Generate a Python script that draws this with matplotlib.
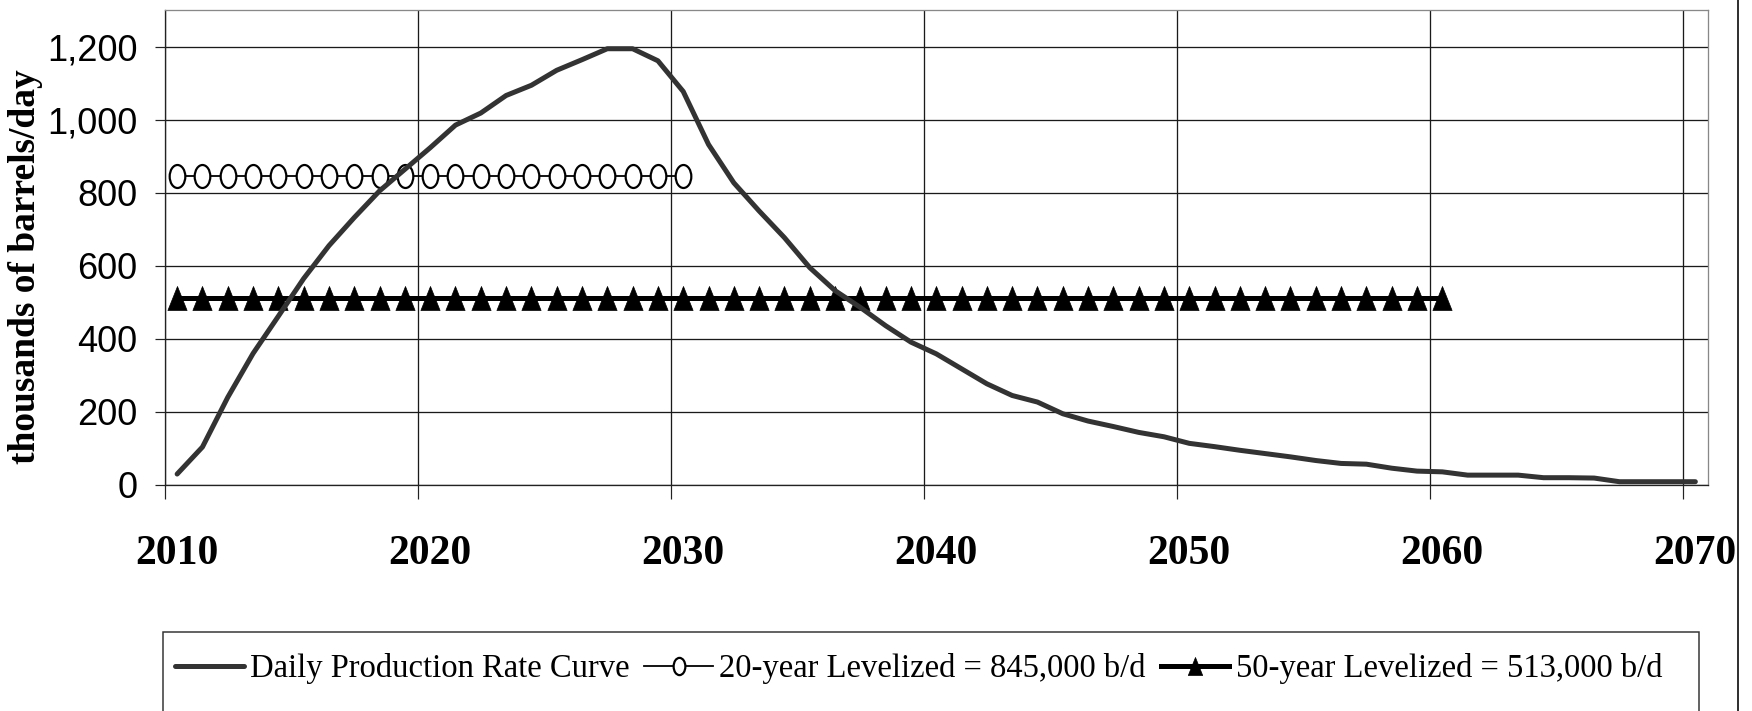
import numpy as np
import matplotlib
matplotlib.use("Agg")
import matplotlib.pyplot as plt
from matplotlib.path import Path
from matplotlib.lines import Line2D
from matplotlib.patches import Rectangle
from matplotlib.ticker import FixedLocator, NullFormatter, FixedFormatter

# ---------------- data ----------------
years = list(range(2010, 2071))
production = [30, 104, 240, 360, 462, 565, 655, 732, 805, 864,
              923, 985, 1018, 1066, 1094, 1135, 1164, 1194, 1194, 1161,
              1077, 932, 827, 750, 677, 595, 532, 486, 436, 391,
              359, 318, 277, 245, 227, 195, 175, 160, 144, 132,
              114, 105, 95, 86, 77, 67, 59, 57, 46, 38,
              36, 27, 27, 27, 20, 20, 19, 9, 9, 9, 9]
years_20 = list(range(2010, 2031))
level_20 = 845
years_50 = list(range(2010, 2061))
level_50 = 513

label_prod = "Daily Production Rate Curve"
label_20 = "20-year Levelized = 845,000 b/d"
label_50 = "50-year Levelized = 513,000 b/d"
ylabel = "thousands of barrels/day"
y_ticks = [0, 200, 400, 600, 800, 1000, 1200]
x_label_years = [2010, 2020, 2030, 2040, 2050, 2060, 2070]

# ---------------- figure ----------------
W, H = 1752, 711
fig = plt.figure(figsize=(W / 100, H / 100), dpi=100)
ax = fig.add_axes([164.5 / W, 1 - 485 / H, (1708 - 164.5) / W, (485 - 10) / H])

px = 72 / 100  # points per pixel

ellipse = Path(Path.unit_circle().vertices * np.array([0.68, 1.0]), Path.unit_circle().codes)
tri = Path([(0, 1), (-0.8, -1), (0.8, -1), (0, 1)],
           [Path.MOVETO, Path.LINETO, Path.LINETO, Path.CLOSEPOLY])

ax.plot(years, production, color="#333333", lw=5 * px, solid_capstyle="round",
        solid_joinstyle="round", label=label_prod, zorder=4)
ax.plot(years_20, [level_20] * len(years_20), color="black", lw=1.8 * px,
        marker=ellipse, ms=23 * px, mfc="white", mec="black", mew=2.2 * px,
        label=label_20, zorder=3)
ax.plot(years_50, [level_50] * len(years_50), color="black", lw=5 * px,
        marker=tri, ms=24 * px, mfc="black", mec="black", mew=0.5,
        label=label_50, zorder=3)

ax.set_xlim(years[0] - 0.5, years[-1] + 0.5)
ax.set_ylim(0, 1300)

# x axis: gridlines/ticks at category boundaries, labels at category centres
ax.xaxis.set_major_locator(FixedLocator([y - 0.5 for y in x_label_years]))
ax.xaxis.set_major_formatter(NullFormatter())
ax.xaxis.set_minor_locator(FixedLocator(x_label_years))
ax.xaxis.set_minor_formatter(FixedFormatter([str(y) for y in x_label_years]))
ax.tick_params(axis="x", which="major", direction="out", length=14 * px,
               width=1.2 * px, color="#222222")
ax.tick_params(axis="x", which="minor", length=0, pad=50 * px)
for t in ax.xaxis.get_minorticklabels():
    t.set_fontfamily(["Liberation Serif", "DejaVu Serif"])
    t.set_fontweight("bold")
    t.set_fontsize(30)

ax.set_yticks(y_ticks)
ax.set_yticklabels([f"{v:,}" for v in y_ticks])
ax.tick_params(axis="y", direction="out", length=10 * px, width=1.2 * px,
               color="#222222", pad=17 * px)
for t in ax.get_yticklabels():
    t.set_fontfamily(["Liberation Sans", "DejaVu Sans"])
    t.set_fontsize(26)

ax.grid(True, which="major", axis="both", color="#1a1a1a", lw=1.3 * px)
ax.set_axisbelow(True)
for s in ["left", "bottom"]:
    ax.spines[s].set_color("#222222")
    ax.spines[s].set_linewidth(1.3 * px)
for s in ["top", "right"]:
    ax.spines[s].set_color("#888888")
    ax.spines[s].set_linewidth(1.3 * px)

fig.text(26 / W, 1 - 267 / H, ylabel, rotation=90, ha="center", va="center",
         fontsize=27, fontweight="bold", family=["Liberation Serif", "DejaVu Serif"])

# outer chart-area border (right side visible)
fig.add_artist(Line2D([1738 / W, 1738 / W], [0, 1], transform=fig.transFigure,
                      color="#333333", lw=2 * px))

# legend box (extends past the bottom of the image)
fig.add_artist(Rectangle((163 / W, -0.2), (1699 - 163) / W, (711 - 632) / H + 0.2,
                         transform=fig.transFigure, fill=False,
                         edgecolor="#333333", lw=1.5 * px))

handles, labels = ax.get_legend_handles_labels()
leg = fig.legend(handles, labels, loc="center left",
                 bbox_to_anchor=(175 / W, 1 - 669 / H), ncol=3, frameon=False,
                 borderpad=0, borderaxespad=0, handlelength=2.1, handletextpad=0.2,
                 columnspacing=0.45, markerscale=0.75,
                 prop={"family": ["Liberation Serif", "DejaVu Serif"], "size": 23.5})

fig.savefig("out.png", dpi=100)
